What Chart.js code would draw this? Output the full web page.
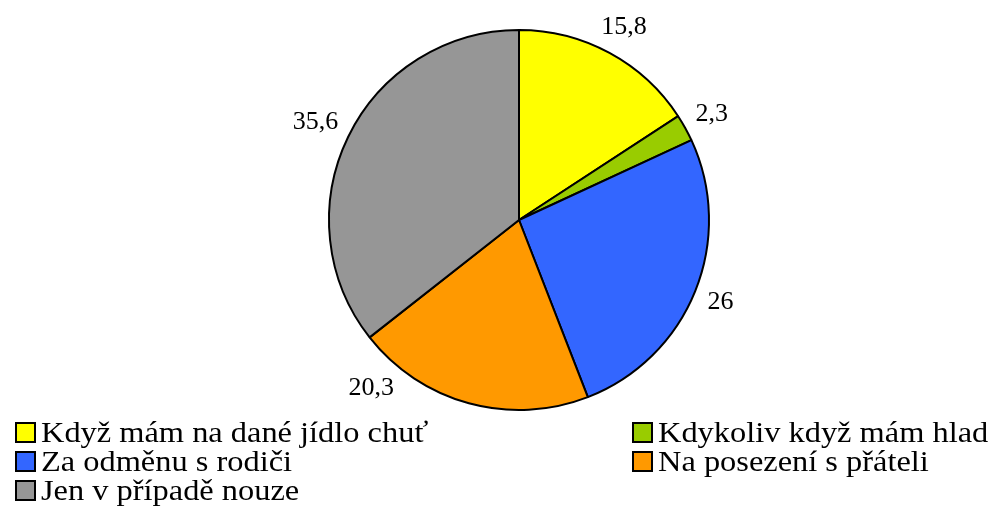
<!DOCTYPE html>
<html>
<head>
<meta charset="utf-8">
<script src="https://cdn.jsdelivr.net/npm/chart.js@4"></script>
<style>
  html, body { margin: 0; padding: 0; background: #fff; }
  #wrap { position: relative; width: 988px; height: 508px; }
  #legend { position: absolute; left: 15px; top: 417px; width: 970px;
            font-family: 'Liberation Serif', 'Times New Roman', serif; font-size: 30px; color: #000; }
  .item { position: absolute; white-space: nowrap; line-height: 29px; }
  .box { display: inline-block; width: 17px; height: 17px; border: 2px solid #000;
         vertical-align: -1px; margin-right: 5px; }
  .txt { display: inline-block; transform: scaleX(1.08); transform-origin: left center; }
</style>
</head>
<body>
<div id="wrap">
  <canvas id="myChart" width="988" height="508"></canvas>
  <div id="legend"></div>
</div>
<script>
// categories and values (percent)
const categories = ['Když mám na dané jídlo chuť', 'Kdykoliv když mám hlad', 'Za odměnu s rodiči', 'Na posezení s přáteli', 'Jen v případě nouze'];
const values = [15.8, 2.3, 26, 20.3, 35.6];
const valueLabels = ['15,8', '2,3', '26', '20,3', '35,6'];
const colors = ['#FFFF00', '#99CC00', '#3366FF', '#FF9900', '#969696'];

// legend in two columns, like the original
const legend = document.getElementById('legend');
categories.forEach((name, i) => {
    const el = document.createElement('div');
    el.className = 'item';
    el.style.left = (i % 2 ? 617 : 0) + 'px';
    el.style.top = (Math.floor(i / 2) * 29) + 'px';
    el.innerHTML = '<span class="box" style="background:' + colors[i] + '"></span><span class="txt">' + name + '</span>';
    legend.appendChild(el);
});

// value labels outside each slice; a label that would run into the legend
// is slid round the pie until it fits above it
const outsideLabels = {
    id: 'outsideLabels',
    afterDatasetsDraw(chart) {
        const ctx = chart.ctx;
        const meta = chart.getDatasetMeta(0);
        const maxY = 388;
        ctx.save();
        ctx.font = '26px "Liberation Serif", "Times New Roman", serif';
        ctx.fillStyle = '#000';
        ctx.textAlign = 'center';
        ctx.textBaseline = 'middle';
        meta.data.forEach((arc, i) => {
            const p = arc.getProps(['x', 'y', 'startAngle', 'endAngle', 'outerRadius'], true);
            const w = ctx.measureText(valueLabels[i]).width;
            let a = (p.startAngle + p.endAngle) / 2;
            const pos = (ang) => {
                const d = p.outerRadius + 12 + Math.abs(Math.cos(ang)) * w / 2 + Math.abs(Math.sin(ang)) * 8.5;
                return [p.x + Math.cos(ang) * d, p.y + Math.sin(ang) * d];
            };
            let [lx, ly] = pos(a);
            const step = Math.cos(a) < 0 ? 0.005 : -0.005;
            while (ly > maxY) {
                a += step;
                [lx, ly] = pos(a);
            }
            ctx.fillText(valueLabels[i], lx, ly + 1);
        });
        ctx.restore();
    }
};

const ctx = document.getElementById('myChart').getContext('2d');
const myChart = new Chart(ctx, {
    type: 'pie',
    data: {
        labels: categories,
        datasets: [{
            data: values,
            backgroundColor: colors,
            borderColor: '#000',
            borderWidth: 2
        }]
    },
    options: {
        responsive: false,
        animation: false,
        layout: { padding: { left: 328, right: 278, top: 29, bottom: 97 } },
        plugins: {
            legend: { display: false },
            tooltip: { enabled: false }
        }
    },
    plugins: [outsideLabels]
});
</script>
</body>
</html>
